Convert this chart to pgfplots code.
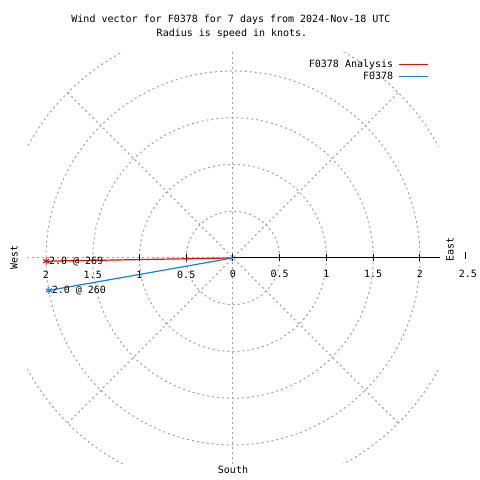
\documentclass[border=0pt]{standalone}
\usepackage{pgfplots}
\pgfplotsset{compat=1.18}
\usepackage{fontspec}
\newfontfamily\gp{DejaVu Sans Mono}
\definecolor{gpblue}{RGB}{25,125,230}
\definecolor{gridgray}{RGB}{160,160,160}
\begin{document}
\begin{tikzpicture}[font=\gp\fontsize{10}{12}\selectfont]
\begin{axis}[scale only axis, width=411.4pt, height=411.4pt,
  xmin=-2.2, xmax=2.2, ymin=-2.2, ymax=2.2,
  axis lines=none, clip=false,
  legend plot pos=right, legend cell align=right,
  legend image code/.code={\draw[#1, line width=1pt] (0pt,0pt) -- (29pt,0pt);},
  legend style={draw=none, fill=none, at={(axis cs:2.09,2.139)}, anchor=north east,
    inner sep=0pt, row sep=0pt, column sep=4pt,
    nodes={inner sep=1pt, text height=8pt, text depth=2pt, font=\gp\fontsize{10}{12}\selectfont}}]
% bounding box of the 480x480 picture
\path (axis cs:-2.492,-2.374) rectangle (axis cs:2.642,2.759);
% grid
\begin{scope}
\clip (axis cs:-2.2,-2.2) rectangle (axis cs:2.2,2.2);
\begin{scope}[gridgray, line width=1pt, dash pattern=on 2pt off 3pt]
\draw (axis cs:0,0) circle[radius=46.75pt];
\draw (axis cs:0,0) circle[radius=93.5pt];
\draw (axis cs:0,0) circle[radius=140.25pt];
\draw (axis cs:0,0) circle[radius=187pt];
\draw (axis cs:0,0) circle[radius=233.75pt];
\draw (axis cs:-2.2,0) -- (axis cs:0,0);
\draw (axis cs:0,-2.2) -- (axis cs:0,2.2);
\draw (axis cs:-1.7678,-1.7678) -- (axis cs:1.7678,1.7678);
\draw (axis cs:-1.7678,1.7678) -- (axis cs:1.7678,-1.7678);
\end{scope}
\end{scope}
% radial axis
\draw[black, line width=1pt] (axis cs:0,0) -- (axis cs:2.21,0);
\draw[black, line width=1pt] (axis cs:-1,0.0374) -- (axis cs:-1,-0.0374);
\draw[black, line width=1pt] (axis cs:-0.5,0.0374) -- (axis cs:-0.5,-0.0374);
\draw[black, line width=1pt] (axis cs:0,0.0374) -- (axis cs:0,-0.0374);
\draw[black, line width=1pt] (axis cs:0.5,0.0374) -- (axis cs:0.5,-0.0374);
\draw[black, line width=1pt] (axis cs:1,0.0374) -- (axis cs:1,-0.0374);
\draw[black, line width=1pt] (axis cs:1.5,0.0374) -- (axis cs:1.5,-0.0374);
\draw[black, line width=1pt] (axis cs:2,0.0374) -- (axis cs:2,-0.0374);
\draw[black, line width=1pt] (axis cs:2.492,0.064) -- (axis cs:2.492,-0.011);
% data
\addplot[red, line width=1.2pt, mark=asterisk, mark indices={2}, mark size=3.5pt, mark options={solid, line width=1pt}]
  coordinates {(0,0) (-1.9997,-0.0349)};
\addlegendentry{F0378 Analysis}
\addplot[gpblue, line width=1.2pt, mark=asterisk, mark indices={2}, mark size=3.5pt, mark options={solid, line width=1pt}]
  coordinates {(0,0) (-1.9696,-0.3473)};
\addlegendentry{F0378}
\node[anchor=west, inner sep=0pt] at (axis cs:-1.97,-0.0349) {2.0 @ 269};
\node[anchor=west, inner sep=0pt] at (axis cs:-1.94,-0.3473) {2.0 @ 260};
% tick labels left
\node[inner sep=0pt] at (axis cs:-2,-0.182) {2};
\node[inner sep=0pt] at (axis cs:-1.5,-0.182) {1.5};
\node[inner sep=0pt] at (axis cs:-1,-0.182) {1};
\node[inner sep=0pt] at (axis cs:-0.5,-0.182) {0.5};
\node[inner sep=0pt] at (axis cs:0,-0.171) {0};
% tick labels right
\node[inner sep=0pt] at (axis cs:0.5,-0.171) {0.5};
\node[inner sep=0pt] at (axis cs:1,-0.171) {1};
\node[inner sep=0pt] at (axis cs:1.5,-0.171) {1.5};
\node[inner sep=0pt] at (axis cs:2,-0.171) {2};
\node[inner sep=0pt] at (axis cs:2.513,-0.171) {2.5};
% compass labels
\node[rotate=90, inner sep=0pt] at (axis cs:-2.342,0) {West};
\node[rotate=90, inner sep=0pt] at (axis cs:2.321,0.086) {East};
\node[inner sep=0pt] at (axis cs:0,-2.267) {South};
% title
\node[inner sep=0pt] at (axis cs:-0.0214,2.545) {Wind vector for F0378 for 7 days from 2024-Nov-18 UTC};
\node[inner sep=0pt] at (axis cs:-0.0107,2.396) {Radius is speed in knots.};
\end{axis}
\end{tikzpicture}
\end{document}
